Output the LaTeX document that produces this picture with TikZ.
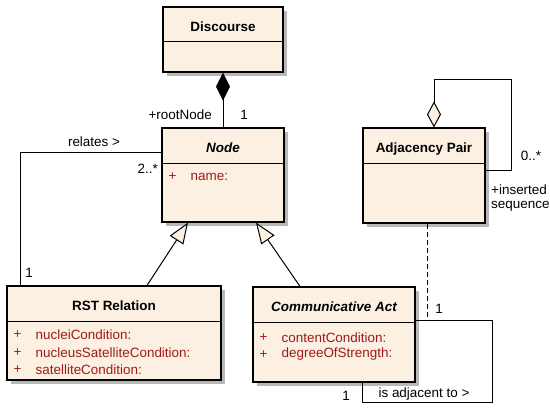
\documentclass[tikz,border=0pt]{standalone}
\usepackage{fontspec}
\setmainfont{Liberation Sans}
\usetikzlibrary{arrows.meta,shadows}
\definecolor{beige}{HTML}{FBF0E1}
\definecolor{attr}{HTML}{9E1B1B}
\tikzset{
  cls/.style={draw=black, line width=1.1bp, fill=beige, rectangle, inner sep=0pt,
    drop shadow={shadow xshift=4bp, shadow yshift=-4bp, fill=black!28, opacity=1}},
  ttl/.style={font=\fontsize{13.5}{16}\selectfont\bfseries, anchor=base, inner sep=0pt},
  ttli/.style={font=\fontsize{13.5}{16}\selectfont\bfseries\itshape, anchor=base, inner sep=0pt},
  att/.style={font=\fontsize{13.5}{16}\selectfont, text=attr, anchor=west, inner sep=0pt},
  lbl/.style={font=\fontsize{13.5}{16}\selectfont, inner sep=0pt},
  conn/.style={draw=black, line width=1bp},
}
\begin{document}
\begin{tikzpicture}[x=1bp, y=-1bp]
\useasboundingbox (0,0) rectangle (550,408);

% classes
\node[cls, minimum width=120bp, minimum height=65bp] (disc) at (223,39.5) {};
\node[cls, minimum width=122bp, minimum height=94bp] (node) at (223,175) {};
\node[cls, minimum width=214bp, minimum height=94bp] (rst) at (114,333) {};
\node[cls, minimum width=162bp, minimum height=95bp] (ca) at (334,334.5) {};
\node[cls, minimum width=122bp, minimum height=95bp] (ap) at (424,175.5) {};

% dividers
\draw[line width=1.1bp] ([yshift=-35bp]disc.north west) -- ([yshift=-35bp]disc.north east);
\draw[line width=1.1bp] ([yshift=-36bp]node.north west) -- ([yshift=-36bp]node.north east);
\draw[line width=1.1bp] ([yshift=-36bp]rst.north west) -- ([yshift=-36bp]rst.north east);
\draw[line width=1.1bp] ([yshift=-36bp]ca.north west) -- ([yshift=-36bp]ca.north east);
\draw[line width=1.1bp] ([yshift=-36bp]ap.north west) -- ([yshift=-36bp]ap.north east);

% titles
\node[ttl] (discT) at ([yshift=-24.8bp]disc.north) {Discourse};
\node[ttli] (nodeT) at ([yshift=-24.8bp]node.north) {Node};
\node[ttl] (rstT) at ([yshift=-24.8bp]rst.north) {RST Relation};
\node[ttli] (caT) at ([yshift=-24.8bp]ca.north) {Communicative Act};
\node[ttl] (apT) at ([yshift=-24.8bp]ap.north) {Adjacency Pair};

% attributes
\node[att] (n1p) at ([xshift=7bp,yshift=-49bp]node.north west) {+};
\node[att] (n1) at ([xshift=29bp,yshift=-49bp]node.north west) {name:};
\node[att] (r1p) at ([xshift=7bp,yshift=-49bp]rst.north west) {+};
\node[att] (r1) at ([xshift=29bp,yshift=-49bp]rst.north west) {nucleiCondition:};
\node[att] (r2p) at ([xshift=7bp,yshift=-67bp]rst.north west) {+};
\node[att] (r2) at ([xshift=29bp,yshift=-67bp]rst.north west) {nucleusSatelliteCondition:};
\node[att] (r3p) at ([xshift=7bp,yshift=-84bp]rst.north west) {+};
\node[att] (r3) at ([xshift=29bp,yshift=-84bp]rst.north west) {satelliteCondition:};
\node[att] (c1p) at ([xshift=7bp,yshift=-51bp]ca.north west) {+};
\node[att] (c1) at ([xshift=29bp,yshift=-51bp]ca.north west) {contentCondition:};
\node[att] (c2p) at ([xshift=7bp,yshift=-68bp]ca.north west) {+};
\node[att] (c2) at ([xshift=29bp,yshift=-68bp]ca.north west) {degreeOfStrength:};

% composition Discourse - Node
\draw[conn, {Diamond[length=28bp,width=14bp]}-] (disc.south) -- (node.north);
\node[lbl, anchor=east] (rootL) at (212,115) {+rootNode};
\node[lbl] (rootM) at (244,115) {1};

% relates association
\draw[conn] ([yshift=-25bp]node.north west) -| ([xshift=14bp]rst.north west);
\node[lbl] (relL) at (94,142) {relates >};
\node[lbl, anchor=east] (relM1) at (158,169) {2..*};
\node[lbl] (relM2) at (29,273) {1};

% generalizations
\draw[conn, -{Triangle[open, fill=beige, length=21bp, width=16bp]}] ([xshift=33bp]rst.north) -- ([xshift=-35bp]node.south);
\draw[conn, -{Triangle[open, fill=beige, length=21bp, width=16bp]}] ([xshift=-34bp]ca.north) -- ([xshift=33bp]node.south);

% is adjacent to (self association)
\coordinate (caR) at (492,402);
\coordinate (aj) at ([yshift=-34bp]ca.north east);
\draw[conn] (aj) -| (caR) -| ([xshift=110bp]ca.south west);
\node[lbl] (adjL) at (424,394) {is adjacent to >};
\node[lbl] (adjM1) at (346,396) {1};
\node[lbl] (adjM2) at (439,309) {1};

% dashed association class link
\draw[conn, dash pattern=on 5bp off 3bp] ([xshift=3bp]ap.south) -- ([xshift=3bp]ap.south |- aj);

% inserted sequence (self aggregation)
\coordinate (apC) at (511,79);
\draw[conn, {Diamond[fill=beige, length=26bp, width=14bp]}-] ([xshift=10bp]ap.north) |- (apC) |- ([yshift=-43bp]ap.north east);
\node[lbl] (insM) at (531,156) {0..*};
\node[lbl, anchor=west] (insL1) at (491,190) {+inserted};
\node[lbl, anchor=west] (insL2) at (491,206) {sequence};
\end{tikzpicture}
\end{document}
